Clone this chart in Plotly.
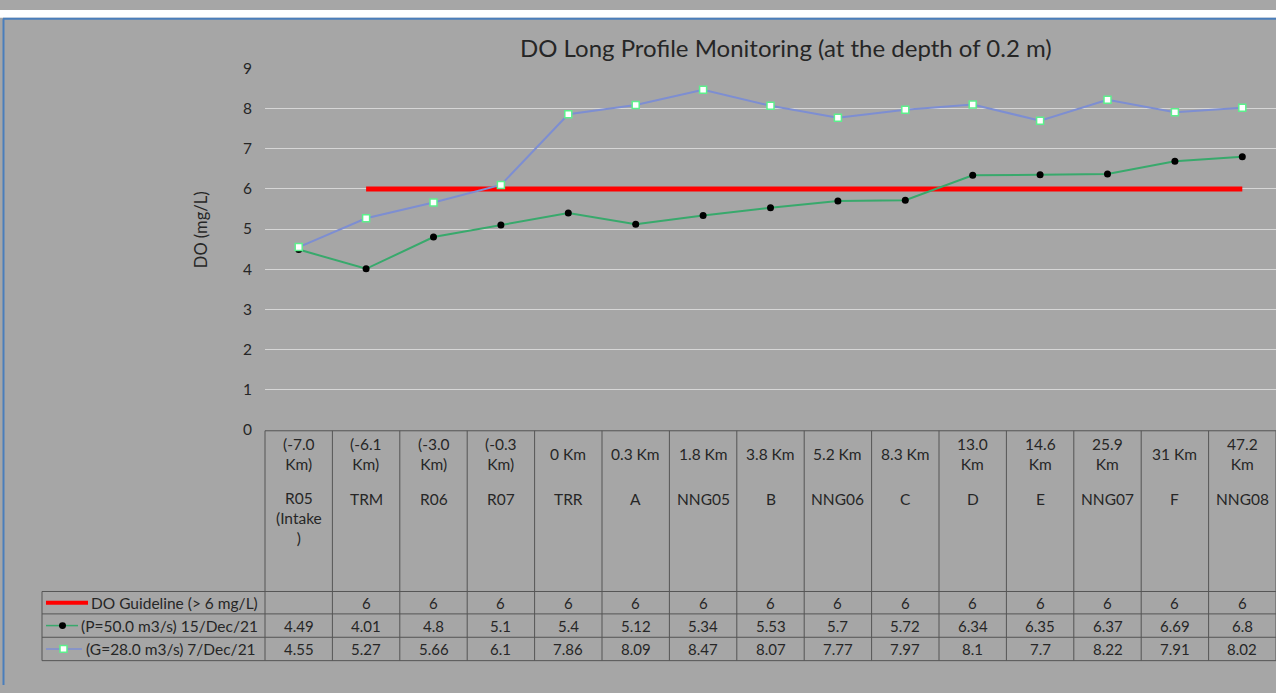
import plotly.graph_objects as go

# ---------------- data ----------------
distances = ["(-7.0 Km)", "(-6.1 Km)", "(-3.0 Km)", "(-0.3 Km)", "0 Km", "0.3 Km",
             "1.8 Km", "3.8 Km", "5.2 Km", "8.3 Km", "13.0 Km", "14.6 Km",
             "25.9 Km", "31 Km", "47.2 Km"]
stations = ["R05 (Intake )", "TRM", "R06", "R07", "TRR", "A", "NNG05", "B",
            "NNG06", "C", "D", "E", "NNG07", "F", "NNG08"]
guideline = [None, 6, 6, 6, 6, 6, 6, 6, 6, 6, 6, 6, 6, 6, 6]
p_values = [4.49, 4.01, 4.8, 5.1, 5.4, 5.12, 5.34, 5.53, 5.7, 5.72, 6.34, 6.35, 6.37, 6.69, 6.8]
g_values = [4.55, 5.27, 5.66, 6.1, 7.86, 8.09, 8.47, 8.07, 7.77, 7.97, 8.1, 7.7, 8.22, 7.91, 8.02]
series_names = ["DO Guideline (> 6 mg/L)", "(P=50.0 m3/s) 15/Dec/21", "(G=28.0 m3/s) 7/Dec/21"]
title_text = "DO Long Profile Monitoring (at the depth of 0.2 m)"
y_title = "DO (mg/L)"
y_ticks = list(range(0, 10))

# ---------------- layout helpers ----------------
W, H = 1276, 693
BG = "#a6a6a6"
FONT = "Lato"
TXT = "#262626"
RED = "#ff0000"
GREEN = "#38a96c"
BLUE = "#7d8ed2"
MARK_EDGE = "#5cf08c"
GRIDC = "#d6d6d6"
TBL = "#555555"

def px(x):
    return x / W

def py(y):
    return 1 - y / H

n = len(distances)
xs = list(range(n))
X0, X1 = 265, 1276          # plot area in px
Y_TOP, Y_ZERO = 60, 431
colw = (X1 - X0) / n
LEG_X0 = 42
ROW_LINES = [597, 620, 644, 668]

fig = go.Figure()
fig.add_trace(go.Scatter(x=xs, y=guideline, mode="lines", name=series_names[0],
                         line=dict(color=RED, width=5), connectgaps=False))
fig.add_trace(go.Scatter(x=xs, y=p_values, mode="lines+markers", name=series_names[1],
                         line=dict(color=GREEN, width=2),
                         marker=dict(symbol="circle", size=7, color="black")))
fig.add_trace(go.Scatter(x=xs, y=g_values, mode="lines+markers", name=series_names[2],
                         line=dict(color=BLUE, width=2),
                         marker=dict(symbol="square", size=7, color="white",
                                     line=dict(color=MARK_EDGE, width=1.5))))

shapes = []
annotations = []

# frame: white strip on top and blue border
shapes.append(dict(type="rect", xref="paper", yref="paper", x0=0, x1=1, y0=py(8), y1=1,
                   fillcolor="white", line=dict(width=0), layer="below"))
shapes.append(dict(type="line", xref="paper", yref="paper", x0=px(3), x1=1, y0=py(9), y1=py(9),
                   line=dict(color="#4a7ebb", width=2)))
shapes.append(dict(type="line", xref="paper", yref="paper", x0=px(3.5), x1=px(3.5), y0=0, y1=py(9),
                   line=dict(color="#4a7ebb", width=2)))

# data table grid
def col_edge(i):
    return X0 + i * colw

shapes.append(dict(type="line", xref="paper", yref="paper", x0=px(X0), x1=px(X1),
                   y0=py(Y_ZERO + 1), y1=py(Y_ZERO + 1), line=dict(color=TBL, width=1)))
for i in range(n + 1):
    xe = col_edge(i)
    shapes.append(dict(type="line", xref="paper", yref="paper", x0=px(xe), x1=px(xe),
                       y0=py(Y_ZERO + 1), y1=py(ROW_LINES[-1]), line=dict(color=TBL, width=1)))
for yl in ROW_LINES:
    shapes.append(dict(type="line", xref="paper", yref="paper", x0=px(LEG_X0), x1=px(X1),
                       y0=py(yl), y1=py(yl), line=dict(color=TBL, width=1)))
shapes.append(dict(type="line", xref="paper", yref="paper", x0=px(LEG_X0), x1=px(LEG_X0),
                   y0=py(ROW_LINES[0]), y1=py(ROW_LINES[-1]), line=dict(color=TBL, width=1)))

# header labels
def wrap(s):
    return "<br>".join(s.split(" ")) if len(s) > 6 else s

HDR = 15.5
for i in xs:
    annotations.append(dict(x=i, y=py(456), xref="x", yref="paper", text=wrap(distances[i]),
                            showarrow=False, yanchor="middle", xanchor="center",
                            font=dict(family=FONT, size=HDR, color=TXT)))
    st = wrap(stations[i])
    nl = st.count("<br>") + 1
    annotations.append(dict(x=i, y=py(502 + 10 * (nl - 1)), xref="x", yref="paper", text=st,
                            showarrow=False, yanchor="middle", xanchor="center",
                            font=dict(family=FONT, size=HDR, color=TXT)))

# table rows
rows = [guideline, p_values, g_values]
row_centers = [(ROW_LINES[k] + ROW_LINES[k + 1]) / 2 for k in range(3)]
for r, vals in enumerate(rows):
    for i in xs:
        if vals[i] is None:
            continue
        annotations.append(dict(x=i, y=py(row_centers[r]), xref="x", yref="paper",
                                text=f"{vals[i]:g}", showarrow=False, yanchor="middle",
                                xanchor="center", font=dict(family=FONT, size=15, color=TXT)))

# legend keys in the table
yc = row_centers
shapes.append(dict(type="line", xref="paper", yref="paper", x0=px(46), x1=px(88),
                   y0=py(yc[0]), y1=py(yc[0]), line=dict(color=RED, width=4)))
shapes.append(dict(type="line", xref="paper", yref="paper", x0=px(46), x1=px(78),
                   y0=py(yc[1]), y1=py(yc[1]), line=dict(color=GREEN, width=1.5)))
shapes.append(dict(type="circle", xref="paper", yref="paper", x0=px(59), x1=px(66),
                   y0=py(yc[1] + 3.5), y1=py(yc[1] - 3.5), fillcolor="black",
                   line=dict(color="black", width=0)))
shapes.append(dict(type="line", xref="paper", yref="paper", x0=px(46), x1=px(82),
                   y0=py(yc[2]), y1=py(yc[2]), line=dict(color=BLUE, width=1.5)))
shapes.append(dict(type="rect", xref="paper", yref="paper", x0=px(60), x1=px(67),
                   y0=py(yc[2] + 3.5), y1=py(yc[2] - 3.5), fillcolor="white",
                   line=dict(color=MARK_EDGE, width=1.5)))
legend_text_x = [89, 79, 84]
for r in range(3):
    annotations.append(dict(x=px(legend_text_x[r]), y=py(yc[r]), xref="paper", yref="paper",
                            text=series_names[r], showarrow=False, xanchor="left",
                            yanchor="middle", font=dict(family=FONT, size=15.5, color=TXT)))

# title and y title
annotations.append(dict(x=px(786), y=py(39), xref="paper", yref="paper", text=title_text,
                        showarrow=False, xanchor="center", yanchor="middle",
                        font=dict(family=FONT, size=24, color=TXT)))
annotations.append(dict(x=px(201), y=py(226), xref="paper", yref="paper", text=y_title,
                        showarrow=False, textangle=-90, xanchor="center", yanchor="middle",
                        font=dict(family=FONT, size=16.5, color=TXT)))

fig.update_layout(
    width=W, height=H,
    margin=dict(l=0, r=0, t=0, b=0),
    paper_bgcolor=BG, plot_bgcolor=BG,
    showlegend=False,
    shapes=shapes,
    annotations=annotations,
    xaxis=dict(domain=[px(X0), px(X1)], range=[-0.5, n - 0.5], showgrid=False,
               showticklabels=False, zeroline=False, showline=False, fixedrange=True),
    yaxis=dict(domain=[py(Y_ZERO), py(Y_TOP)], range=[0, 9], tickvals=y_ticks,
               showgrid=True, gridcolor=GRIDC, gridwidth=1.3, zeroline=False,
               showline=False, ticks="", ticklabelstandoff=12,
               tickfont=dict(family=FONT, size=15.5, color=TXT)),
)

fig.write_html(
    "out.html",
    config={"displayModeBar": False},
    post_script=(
        "var d=document.getElementById('{plot_id}');"
        "d.style.position='fixed';d.style.left='0px';d.style.top='0px';"
        "document.documentElement.style.margin='0';document.documentElement.style.overflow='hidden';"
        "document.body.style.margin='0';document.body.style.padding='0';"
        "document.body.style.overflow='hidden';"
    ),
)
